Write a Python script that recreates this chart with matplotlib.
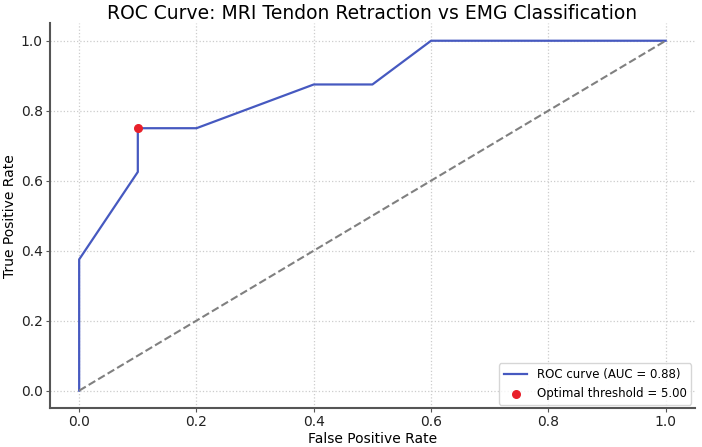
import matplotlib
matplotlib.use("Agg")
import matplotlib.pyplot as plt

fpr = [0.0, 0.0, 0.1, 0.1, 0.2, 0.4, 0.5, 0.6, 1.0]
tpr = [0.0, 0.375, 0.625, 0.75, 0.75, 0.875, 0.875, 1.0, 1.0]
auc_val = 0.88
opt_fpr = 0.1
opt_tpr = 0.75
opt_threshold = 5.00

fig = plt.figure(figsize=(7.02, 4.47), dpi=100)
ax = fig.add_axes([0.071, 0.087, 0.919, 0.861])

ax.plot(fpr, tpr, color="#4659c0", lw=1.6, label=f"ROC curve (AUC = {auc_val:.2f})")
ax.plot([0, 1], [0, 1], color="gray", lw=1.5, linestyle="--")
ax.scatter([opt_fpr], [opt_tpr], color="#e8202a", s=30, zorder=5,
           label=f"Optimal threshold = {opt_threshold:.2f}")

ax.set_xlim(-0.05, 1.05)
ax.set_ylim(-0.05, 1.05)
ax.set_xticks([0.0, 0.2, 0.4, 0.6, 0.8, 1.0])
ax.set_yticks([0.0, 0.2, 0.4, 0.6, 0.8, 1.0])
ax.grid(True, linestyle=":", color="#cccccc", lw=0.9)
for s in ["top", "right"]:
    ax.spines[s].set_visible(False)
for s in ["left", "bottom"]:
    ax.spines[s].set_linewidth(1.5)
    ax.spines[s].set_color("#555555")
ax.tick_params(labelsize=10, length=3, pad=2, color="#555555", labelcolor="#222222")

ax.set_xlabel("False Positive Rate", fontsize=10, labelpad=2)
ax.set_ylabel("True Positive Rate", fontsize=10, labelpad=3)
ax.set_title("ROC Curve: MRI Tendon Retraction vs EMG Classification", fontsize=13.5, pad=3)
ax.legend(loc="lower right", fontsize=8.5, frameon=True, borderaxespad=0.3)

fig.savefig("out.png", dpi=100)
